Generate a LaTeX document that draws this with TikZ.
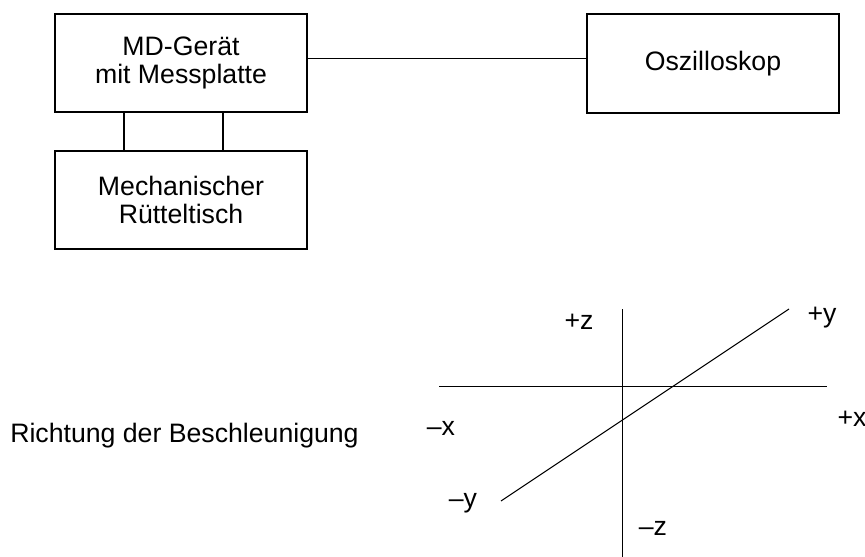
\documentclass[tikz,border=0pt]{standalone}
\usepackage{fontspec}
\setmainfont{Liberation Sans}
\begin{document}
\begin{tikzpicture}[x=0.75pt,y=-0.75pt,
  every node/.style={font=\fontsize{20}{21}\selectfont},
  block/.style={draw,line width=1.1pt,minimum width=252*0.75pt,minimum height=98*0.75pt,
    inner sep=0pt,align=center},
  wire/.style={line width=1.1pt},
  axis/.style={line width=0.75pt},
  lbl/.style={anchor=base,inner sep=0pt}]
\useasboundingbox (0,0) rectangle (865,557);

% block diagram
\node[block] (md) at (181,63) {MD-Gerät\\mit Messplatte};
\node[block] (tisch) at (181,200) {Mechanischer\\Rütteltisch};
\node[block,minimum height=99*0.75pt] (osz) at (713,63.5) {Oszilloskop};

\coordinate (c1) at (124,0);
\coordinate (c2) at (223,0);
\coordinate (h) at (0,58.5);
\draw[wire] (md.south -| c1) -- (tisch.north -| c1);
\draw[wire] (md.south -| c2) -- (tisch.north -| c2);
\draw[wire] (md.east |- h) -- (osz.west |- h);

% acceleration axes
\coordinate (xl) at (439,386);
\coordinate (xr) at (827,386);
\coordinate (zt) at (622,309);
\coordinate (zb) at (622,557);
\coordinate (yl) at (501,501);
\coordinate (yr) at (789,309);
\draw[axis] (xl) -- (xr);
\draw[axis] (zt) -- (zb);
\draw[axis] (yl) -- (yr);

\node[lbl] (pz) at (579,329) {+z};
\node[lbl] (mz) at (653,535) {–z};
\node[lbl] (mx) at (441,435) {–x};
\node[lbl] (px) at (852,426) {+x};
\node[lbl] (py) at (822,322) {+y};
\node[lbl] (my) at (463,507) {–y};

\node[lbl,anchor=base west] (richtung) at (10,442) {Richtung der Beschleunigung};
\end{tikzpicture}
\end{document}
